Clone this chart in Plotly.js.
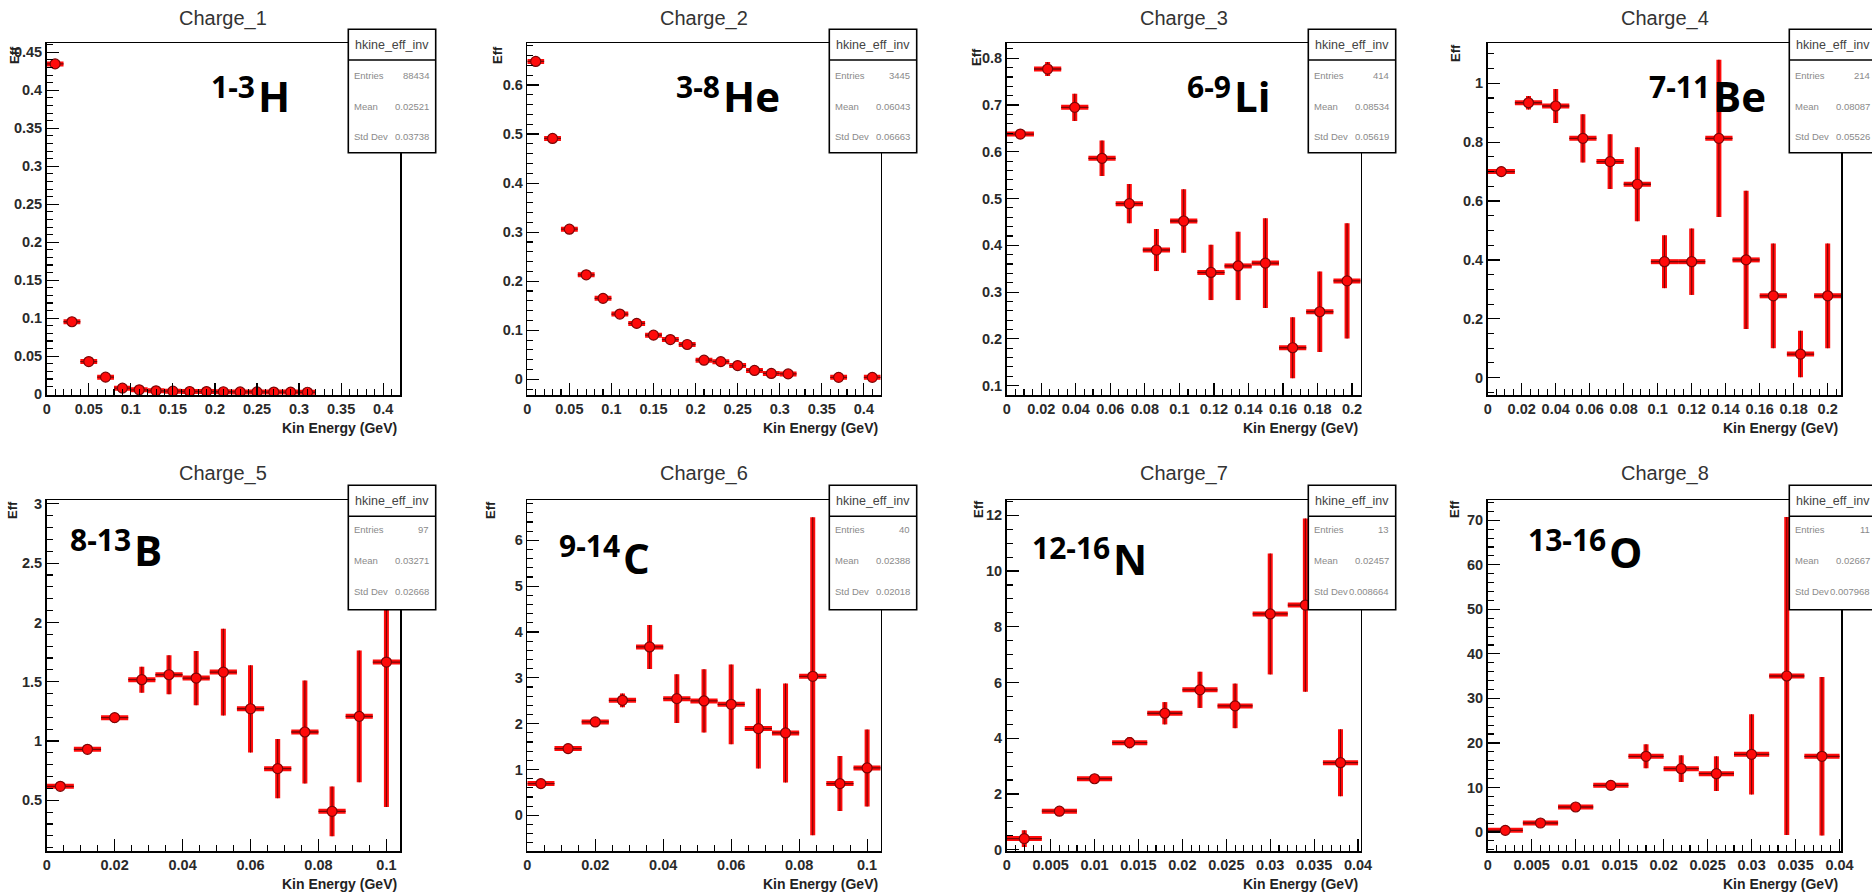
<!DOCTYPE html>
<html>
<head>
<meta charset="utf-8">
<script src="https://cdn.plot.ly/plotly-3.0.1.min.js"></script>
<style>
  html, body { margin: 0; padding: 0; background: #ffffff; }
  #chart { width: 1872px; height: 894px; }
</style>
</head>
<body>
<div id="chart"></div>
<script>
// ---- Efficiency vs kinetic energy, one histogram per fragment charge ----

const chargeTitles = ["Charge_1", "Charge_2", "Charge_3", "Charge_4", "Charge_5", "Charge_6", "Charge_7", "Charge_8"];
const isotopeMass = ["1-3", "3-8", "6-9", "7-11", "8-13", "9-14", "12-16", "13-16"];
const elementSymbols = ["H", "He", "Li", "Be", "B", "C", "N", "O"];
const xAxisTitle = "Kin Energy (GeV)";
const yAxisTitle = "Eff";

// bin centres (GeV), efficiency and its statistical error
const energyZ1 = [0.01, 0.03, 0.05, 0.07, 0.09, 0.11, 0.13, 0.15, 0.17, 0.19, 0.21, 0.23, 0.25, 0.27, 0.29, 0.31];
const effZ1 = [0.4347, 0.0954, 0.0430, 0.0225, 0.0080, 0.0058, 0.0045, 0.0040, 0.0036, 0.0035, 0.0033, 0.0031, 0.0030, 0.0029, 0.0028, 0.0026];
const errZ1 = [0.0022, 0.0012, 0.0009, 0.0007, 0.0004, 0.0004, 0.0003, 0.0003, 0.0003, 0.0003, 0.0003, 0.0003, 0.0003, 0.0003, 0.0003, 0.0003];

const energyZ2 = [0.01, 0.03, 0.05, 0.07, 0.09, 0.11, 0.13, 0.15, 0.17, 0.19, 0.21, 0.23, 0.25, 0.27, 0.29, 0.31, 0.37, 0.41];
const effZ2 = [0.648, 0.491, 0.306, 0.213, 0.165, 0.133, 0.114, 0.090, 0.081, 0.071, 0.039, 0.036, 0.028, 0.018, 0.012, 0.011, 0.004, 0.004];
const errZ2 = [0.006, 0.006, 0.005, 0.005, 0.005, 0.005, 0.005, 0.005, 0.005, 0.005, 0.004, 0.004, 0.004, 0.003, 0.003, 0.003, 0.003, 0.003];

const energyZ3 = [0.0079, 0.0237, 0.0394, 0.0552, 0.0710, 0.0867, 0.1025, 0.1183, 0.1340, 0.1498, 0.1656, 0.1813, 0.1971];
const effZ3 = [0.638, 0.777, 0.695, 0.586, 0.489, 0.390, 0.452, 0.342, 0.356, 0.362, 0.181, 0.258, 0.324];
const errZ3 = [0.010, 0.015, 0.029, 0.038, 0.042, 0.045, 0.068, 0.059, 0.073, 0.096, 0.065, 0.086, 0.123];

const energyZ4 = [0.008, 0.024, 0.040, 0.056, 0.072, 0.088, 0.104, 0.120, 0.136, 0.152, 0.168, 0.184, 0.200];
const effZ4 = [0.700, 0.934, 0.923, 0.813, 0.734, 0.657, 0.394, 0.394, 0.813, 0.400, 0.278, 0.080, 0.278];
const errZ4 = [0.012, 0.023, 0.058, 0.082, 0.093, 0.126, 0.090, 0.113, 0.267, 0.235, 0.178, 0.079, 0.178];

const energyZ5 = [0.004, 0.012, 0.020, 0.028, 0.036, 0.044, 0.052, 0.060, 0.068, 0.076, 0.084, 0.092, 0.100];
const effZ5 = [0.618, 0.930, 1.197, 1.517, 1.559, 1.531, 1.581, 1.272, 0.767, 1.076, 0.407, 1.208, 1.666];
const errZ5 = [0.025, 0.030, 0.040, 0.110, 0.165, 0.229, 0.365, 0.368, 0.249, 0.435, 0.210, 0.555, 1.222];

const energyZ6 = [0.004, 0.012, 0.020, 0.028, 0.036, 0.044, 0.052, 0.060, 0.068, 0.076, 0.084, 0.092, 0.100];
const effZ6 = [0.691, 1.455, 2.036, 2.509, 3.673, 2.545, 2.495, 2.422, 1.891, 1.796, 3.033, 0.691, 1.033];
const errZ6 = [0.04, 0.06, 0.07, 0.15, 0.48, 0.53, 0.69, 0.87, 0.87, 1.08, 3.47, 0.60, 0.84];

const energyZ7 = [0.002, 0.006, 0.010, 0.014, 0.018, 0.022, 0.026, 0.030, 0.034, 0.038];
const effZ7 = [0.396, 1.380, 2.544, 3.840, 4.896, 5.736, 5.160, 8.460, 8.780, 3.120];
const errZ7 = [0.30, 0.10, 0.15, 0.20, 0.40, 0.65, 0.80, 2.17, 3.11, 1.20];

const energyZ8 = [0.002, 0.006, 0.010, 0.014, 0.018, 0.022, 0.026, 0.030, 0.034, 0.038];
const effZ8 = [0.374, 2.02, 5.615, 10.48, 17.0, 14.22, 13.1, 17.44, 35.04, 17.0];
const errZ8 = [0.30, 0.40, 0.60, 0.80, 2.7, 3.0, 3.9, 9.0, 35.7, 17.8];

// half bin width of each histogram (GeV)
const halfBinWidth = [0.01, 0.01, 0.00788, 0.008, 0.004, 0.004, 0.002, 0.002];

// statistics box contents
const statsName = "hkine_eff_inv";
const statsEntries = ["88434", "3445", "414", "214", "97", "40", "13", "11"];
const statsMean = ["0.02521", "0.06043", "0.08534", "0.08087", "0.03271", "0.02388", "0.02457", "0.02667"];
const statsStdDev = ["0.03738", "0.06663", "0.05619", "0.05526", "0.02668", "0.02018", "0.008664", "0.007968"];

const energies = [energyZ1, energyZ2, energyZ3, energyZ4, energyZ5, energyZ6, energyZ7, energyZ8];
const effs = [effZ1, effZ2, effZ3, effZ4, effZ5, effZ6, effZ7, effZ8];
const errs = [errZ1, errZ2, errZ3, errZ4, errZ5, errZ6, errZ7, errZ8];

// ---- page geometry (pixels) ----
const W = 1872, H = 894;
const fx = v => v / W;
const fy = v => 1 - v / H;

const cols = [[46.7, 400], [527.3, 880.7], [1006.7, 1360.7], [1487.7, 1841.3]];
const rows = [[43.3, 395], [500.3, 851.3]];

const axisSetup = [
  { xr: [0, 0.42],   xd: 0.05,  xm: 0.01,  yr: [-0.001, 0.4618], yd: 0.05, ym: 0.01 },
  { xr: [0, 0.42],   xd: 0.05,  xm: 0.01,  yr: [-0.032, 0.685],  yd: 0.1,  ym: 0.02 },
  { xr: [0, 0.205],  xd: 0.02,  xm: 0.005, yr: [0.080, 0.832],   yd: 0.1,  ym: 0.02 },
  { xr: [0, 0.208],  xd: 0.02,  xm: 0.005, yr: [-0.059, 1.136],  yd: 0.2,  ym: 0.05 },
  { xr: [0, 0.104],  xd: 0.02,  xm: 0.005, yr: [0.07, 3.03],     yd: 0.5,  ym: 0.1 },
  { xr: [0, 0.104],  xd: 0.02,  xm: 0.005, yr: [-0.786, 6.873],  yd: 1,    ym: 0.2 },
  { xr: [0, 0.0403], xd: 0.005, xm: 0.001, yr: [-0.06, 12.54],   yd: 2,    ym: 0.5 },
  { xr: [0, 0.0402], xd: 0.005, xm: 0.001, yr: [-4.33, 74.49],   yd: 10,   ym: 2 }
];

// isotope label: left edge of the element symbol, vertical centres of mass numbers and symbol
const symbolLeft = [257, 722, 1233, 1712, 133, 622, 1112, 1608];
const massCentreY = [86, 86, 86, 86, 539, 545, 547, 539];
const symbolCentreY = [95, 95, 95, 95, 549.5, 557, 558, 551];
// "Eff" label centre
const effPos = [[14, 55], [497, 55], [977, 57], [1455, 53], [13, 510], [491, 510], [978, 509], [1454, 509]];
// stats box left edge
const statsLeft = [348.3, 829.3, 1308.3, 1789.3];
const statsBoxW = 87.4;
const statsRowY = [[29.3, 60, 152.7, 45, [75, 106, 137]], [485.3, 516.3, 609.7, 500.8, [529.7, 560.3, 591]]];

const tickFont = { family: "Liberation Sans, Arial, sans-serif", size: 14.5, color: "#2a2a2a", weight: "bold" };
const labelFamily = "Open Sans, Noto Sans, sans-serif";
const red = "#ff0a0a";
const darkRed = "#7a0606";

const data = [];
const layout = {
  width: W, height: H,
  margin: { l: 0, r: 0, t: 0, b: 0 },
  paper_bgcolor: "#ffffff", plot_bgcolor: "#ffffff",
  showlegend: false,
  annotations: [], shapes: []
};

for (let i = 0; i < 8; i++) {
  const r = Math.floor(i / 4), c = i % 4;
  const suf = i === 0 ? "" : String(i + 1);
  const xa = "x" + suf, ya = "y" + suf;
  const [x0, x1] = cols[c];
  const [y0, y1] = rows[r];
  const a = axisSetup[i];

  layout["xaxis" + suf] = {
    domain: [fx(x0), fx(x1)], anchor: ya, range: a.xr,
    tick0: 0, dtick: a.xd, ticks: "inside", ticklen: 12, tickwidth: 1.2, tickcolor: "#000",
    minor: { dtick: a.xm, ticks: "inside", ticklen: 6, tickwidth: 1.1, tickcolor: "#000", showgrid: false },
    showline: true, mirror: true, linecolor: "#000", linewidth: 1.6,
    showgrid: false, zeroline: false, tickfont: tickFont, fixedrange: true
  };
  layout["yaxis" + suf] = {
    domain: [fy(y1), fy(y0)], anchor: xa, range: a.yr,
    tick0: 0, dtick: a.yd, ticks: "inside", ticklen: 12, tickwidth: 1.2, tickcolor: "#000",
    minor: { dtick: a.ym, ticks: "inside", ticklen: 6, tickwidth: 1.1, tickcolor: "#000", showgrid: false },
    showline: true, mirror: true, linecolor: "#000", linewidth: 1.6,
    showgrid: false, zeroline: false, tickfont: tickFont, fixedrange: true
  };

  // thick red error bars
  data.push({
    type: "scatter", mode: "markers", x: energies[i], y: effs[i], xaxis: xa, yaxis: ya,
    marker: { size: 1, color: "rgba(0,0,0,0)" },
    error_y: { type: "data", array: errs[i], color: red, thickness: 5, width: 0 },
    error_x: { type: "constant", value: halfBinWidth[i], color: red, thickness: 5, width: 0 },
    hoverinfo: "skip"
  });
  // thin dark core bars and markers
  data.push({
    type: "scatter", mode: "markers", x: energies[i], y: effs[i], xaxis: xa, yaxis: ya,
    marker: { symbol: "circle", size: 10, color: "#ff0a0a", line: { color: darkRed, width: 1.2 } },
    error_y: { type: "data", array: errs[i], color: darkRed, thickness: 1.1, width: 0 },
    error_x: { type: "constant", value: halfBinWidth[i], color: darkRed, thickness: 1.3, width: 0 },
    hoverinfo: "skip"
  });

  // histogram title
  layout.annotations.push({
    xref: "paper", yref: "paper", x: fx((x0 + x1) / 2), y: fy(r === 0 ? 18.3 : 473.7),
    xanchor: "center", yanchor: "middle", showarrow: false,
    text: chargeTitles[i], font: { family: "Liberation Sans, Arial, sans-serif", size: 20, color: "#333" }
  });
  // x axis title, right aligned on the frame
  layout.annotations.push({
    xref: "paper", yref: "paper", x: fx(x1 - 1), y: fy(r === 0 ? 428 : 883.5),
    xanchor: "right", yanchor: "middle", showarrow: false,
    text: "<b>" + xAxisTitle + "</b>", font: { family: "Liberation Sans, Arial, sans-serif", size: 14, color: "#222" }
  });
  // y axis title at the top of the axis
  layout.annotations.push({
    xref: "paper", yref: "paper", x: fx(effPos[i][0]), y: fy(effPos[i][1]),
    xanchor: "center", yanchor: "middle", showarrow: false, textangle: -90,
    text: "<b>" + yAxisTitle + "</b>", font: { family: "Liberation Sans, Arial, sans-serif", size: 13, color: "#222" }
  });
  // isotope label: raised mass-number range followed by the element symbol
  layout.annotations.push({
    xref: "paper", yref: "paper", x: fx(symbolLeft[i] - 1), y: fy(massCentreY[i]),
    xanchor: "right", yanchor: "middle", showarrow: false, borderpad: 0,
    text: "<b>" + isotopeMass[i] + "</b>",
    font: { family: labelFamily, size: 30, color: "#000" }
  });
  layout.annotations.push({
    xref: "paper", yref: "paper", x: fx(symbolLeft[i]), y: fy(symbolCentreY[i]),
    xanchor: "left", yanchor: "middle", showarrow: false, borderpad: 0,
    text: "<b>" + elementSymbols[i] + "</b>",
    font: { family: labelFamily, size: 42, color: "#000" }
  });

  // statistics box
  const sx0 = statsLeft[c], sx1 = sx0 + statsBoxW;
  const [sTop, sDiv, sBot, sHead, sRows] = statsRowY[r];
  layout.shapes.push({
    type: "rect", xref: "paper", yref: "paper", layer: "above",
    x0: fx(sx0), x1: fx(sx1), y0: fy(sBot), y1: fy(sTop),
    fillcolor: "#ffffff", line: { color: "#000", width: 1.6 }
  });
  layout.shapes.push({
    type: "line", xref: "paper", yref: "paper", layer: "above",
    x0: fx(sx0), x1: fx(sx1), y0: fy(sDiv), y1: fy(sDiv),
    line: { color: "#000", width: 1.6 }
  });
  layout.annotations.push({
    xref: "paper", yref: "paper", x: fx((sx0 + sx1) / 2), y: fy(sHead),
    xanchor: "center", yanchor: "middle", showarrow: false,
    text: statsName, font: { family: "Liberation Sans, Arial, sans-serif", size: 12.5, color: "#444" }
  });
  const labels = ["Entries", "Mean", "Std Dev"];
  const values = [statsEntries[i], statsMean[i], statsStdDev[i]];
  for (let k = 0; k < 3; k++) {
    layout.annotations.push({
      xref: "paper", yref: "paper", x: fx(sx0 + 4), y: fy(sRows[k]),
      xanchor: "left", yanchor: "middle", showarrow: false,
      text: labels[k], font: { family: "Liberation Sans, Arial, sans-serif", size: 9.5, color: "#8a8a8a" }
    });
    layout.annotations.push({
      xref: "paper", yref: "paper", x: fx(sx1 - 5), y: fy(sRows[k]),
      xanchor: "right", yanchor: "middle", showarrow: false,
      text: values[k], font: { family: "Liberation Sans, Arial, sans-serif", size: 9.5, color: "#8a8a8a" }
    });
  }
}

Plotly.newPlot("chart", data, layout, { displayModeBar: false, staticPlot: true });
</script>
</body>
</html>
